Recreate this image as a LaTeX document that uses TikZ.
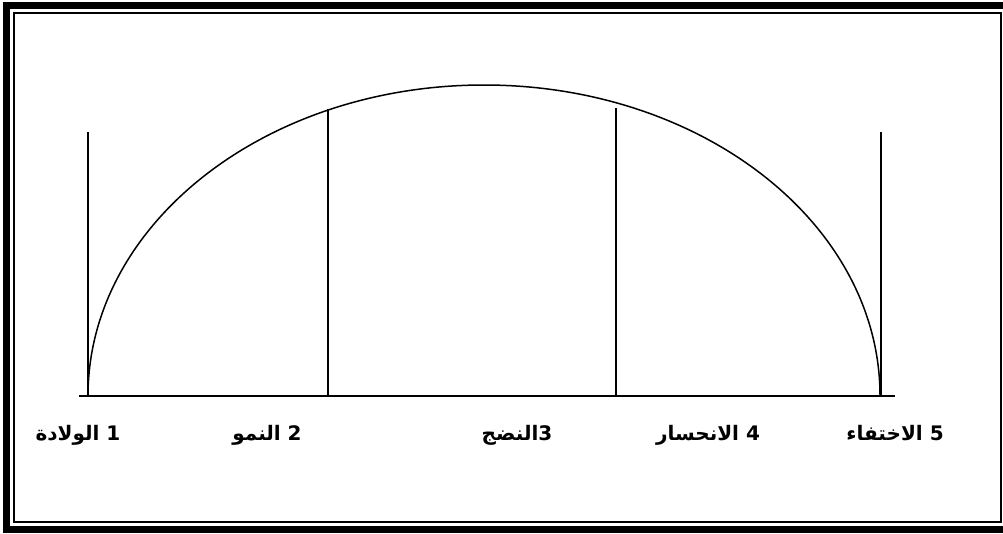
\documentclass[tikz,border=0pt]{standalone}
\usepackage{fontspec}
\newfontfamily\arabicfont[Script=Arabic]{DejaVu Sans}
\TeXXeTstate=1
\begin{document}
\begin{tikzpicture}[x=1pt, y=-1pt,
    stage/.style={font=\arabicfont\bfseries\fontsize{20}{24}\selectfont, inner sep=0pt, anchor=base}]
\useasboundingbox (0,0) rectangle (1003,533);
% Double frame
\draw[line width=7pt] (6.5,5.5) rectangle (1010,529.5);
\draw[line width=2pt] (14,13) rectangle (1001,522);
% Base line and arc
\coordinate (base west) at (79,396);
\coordinate (base east) at (895,396);
\draw[line width=1.6pt] (base west) -- (base east);
\draw[line width=1.5pt] (88,396) arc[start angle=180, end angle=0, x radius=396, y radius=-311];
% Stage dividers
\draw[line width=1.6pt] (88,132) -- (88,396);
\draw[line width=1.6pt] (328,109) -- (328,396);
\draw[line width=1.6pt] (616,108) -- (616,396);
\draw[line width=1.6pt] (881,132) -- (881,396);
% Stage labels
\node[stage] (birth) at (78,440) {\beginR 1 الولادة\endR};
\node[stage] (growth) at (267,440) {\beginR 2 النمو\endR};
\node[stage] (maturity) at (517,440) {\beginR 3النضج\endR};
\node[stage] (decline) at (708,440) {\beginR 4 الانحسار\endR};
\node[stage] (vanish) at (895,440) {\beginR 5 الاختفاء\endR};
\end{tikzpicture}
\end{document}
